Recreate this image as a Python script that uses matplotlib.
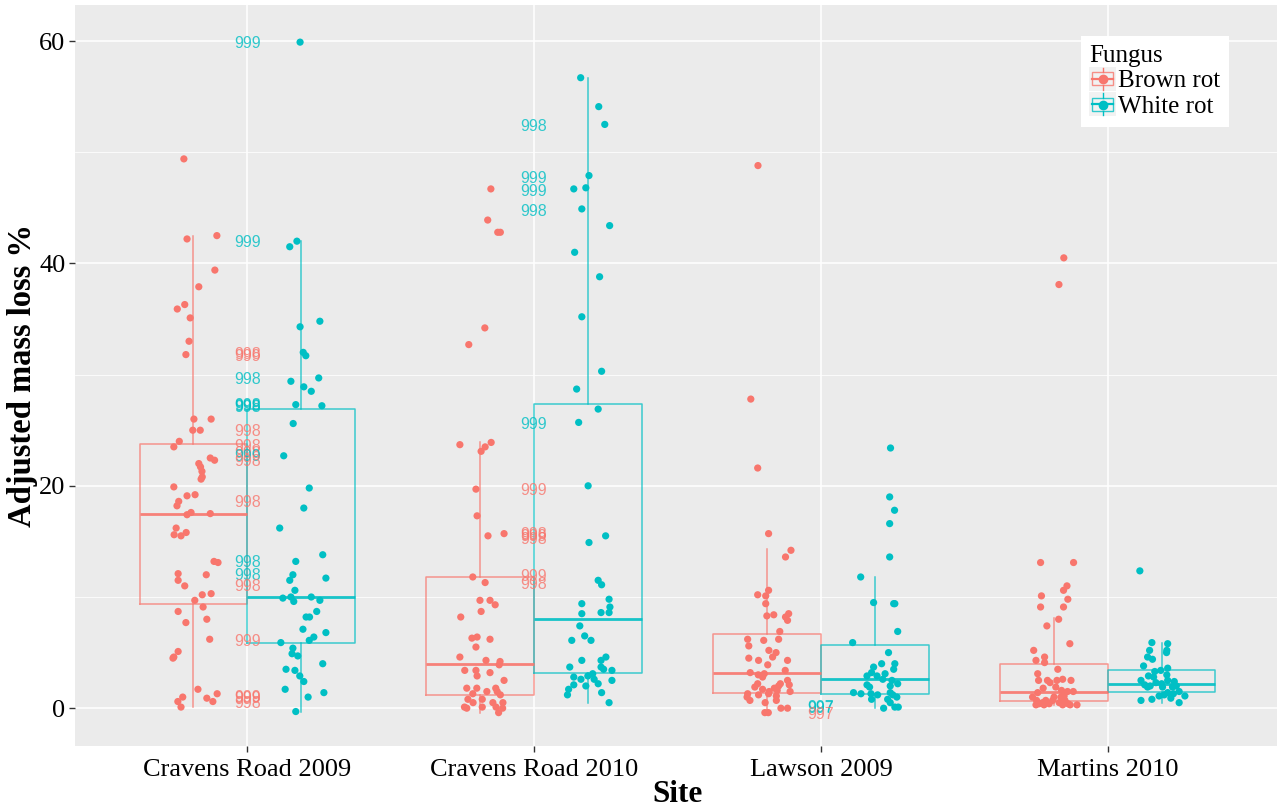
import matplotlib
matplotlib.use("Agg")
import matplotlib.pyplot as plt
from matplotlib.legend_handler import HandlerBase
from matplotlib.patches import Rectangle
from matplotlib.lines import Line2D

# ---------------- data ----------------
sites = ["Cravens Road 2009", "Cravens Road 2010", "Lawson 2009", "Martins 2010"]
fungi = ["Brown rot", "White rot"]

# jittered observations: adjusted mass loss (%) and horizontal jitter (category units)
brown_cr09_y = [49.4, 42.2, 42.5, 39.4, 37.9, 36.3, 35.9, 35.1, 33.0, 31.8, 26.0, 26.0, 25.0, 25.0, 24.0, 23.5,
                22.5, 22.3, 22.0, 21.7, 21.3, 20.8, 20.6, 19.9, 19.1, 19.2, 18.6, 18.2, 17.4, 17.6, 17.5, 16.2,
                15.6, 15.5, 15.8, 13.2, 13.1, 12.1, 11.5, 11.0, 12.0, 10.3, 10.2, 9.7, 9.1, 8.7, 8.0, 7.7, 6.2,
                5.1, 4.6, 4.5, 1.7, 1.3, 1.0, 0.9, 0.6, 0.6, 0.1]
brown_cr09_jit = [-0.033, -0.022, 0.082, 0.075, 0.019, -0.030, -0.056, -0.011, -0.015, -0.026, 0.002, 0.062,
                  -0.002, 0.024, -0.049, -0.068, 0.059, 0.074, 0.019, 0.025, 0.030, 0.031, 0.027, -0.068, -0.022,
                  0.006, -0.051, -0.057, -0.022, -0.008, 0.059, -0.060, -0.067, -0.043, -0.025, 0.072, 0.086,
                  -0.053, -0.053, -0.030, 0.045, 0.062, 0.031, 0.005, 0.034, -0.053, 0.047, -0.026, 0.057,
                  -0.053, -0.068, -0.071, 0.016, 0.083, -0.037, 0.047, 0.068, -0.054, -0.043]
white_cr09_y = [59.9, 42.0, 41.5, 34.8, 34.3, 32.0, 31.7, 29.4, 29.7, 28.9, 28.5, 27.3, 27.2, 25.6, 22.7, 19.8,
                18.0, 16.2, 13.8, 13.2, 12.0, 11.5, 11.7, 10.6, 9.9, 10.0, 9.6, 10.0, 9.7, 8.7, 8.2, 8.2, 7.1,
                6.8, 6.4, 6.1, 5.9, 5.4, 4.9, 4.7, 4.0, 3.5, 3.4, 2.9, 2.4, 1.7, 1.4, 1.0, -0.3]
white_cr09_jit = [-0.003, -0.014, -0.039, 0.066, -0.003, 0.008, 0.017, -0.035, 0.062, 0.010, 0.036, -0.018,
                  0.073, -0.027, -0.060, 0.029, 0.010, -0.074, 0.076, -0.018, -0.028, -0.039, 0.087, -0.021,
                  -0.063, -0.035, -0.025, 0.036, 0.066, 0.055, 0.018, 0.030, 0.007, 0.087, 0.045, 0.029,
                  -0.070, -0.028, -0.031, -0.011, 0.076, -0.052, -0.021, -0.004, 0.010, -0.055, 0.080, 0.025,
                  -0.018]
brown_cr10_y = [46.7, 43.9, 42.8, 42.8, 34.2, 32.7, 23.7, 23.1, 23.5, 23.9, 19.7, 17.3, 15.5, 15.7, 11.8, 11.3,
                9.7, 9.7, 9.3, 8.7, 8.2, 6.3, 6.4, 6.2, 5.5, 4.6, 4.3, 4.2, 3.9, 3.4, 3.4, 3.2, 2.5, 2.9, 1.8,
                1.8, 1.8, 1.3, 1.5, 1.5, 0.8, 0.5, 0.8, 0.5, 1.2, 0.5, 0.1, 0.0, 0.1, 0.1, -0.4, 0.0]
brown_cr10_jit = [0.037, 0.026, 0.061, 0.070, 0.016, -0.040, -0.071, 0.003, 0.017, 0.038, -0.015, -0.011,
                  0.027, 0.083, -0.026, 0.017, -0.001, 0.034, 0.052, 0.003, -0.068, -0.029, -0.011, 0.034,
                  -0.015, -0.071, 0.020, 0.069, 0.066, -0.054, -0.015, 0.034, 0.083, -0.011, -0.047, -0.012,
                  0.054, -0.026, 0.023, 0.059, -0.043, -0.025, 0.007, 0.044, 0.070, 0.079, -0.055, -0.047,
                  0.007, 0.055, 0.064, 0.078]
white_cr10_y = [56.7, 54.1, 52.5, 47.9, 46.7, 46.8, 44.9, 43.4, 41.0, 38.8, 35.2, 30.3, 28.7, 26.9, 25.7, 20.0,
                15.5, 14.9, 11.5, 11.1, 9.4, 9.8, 9.1, 8.6, 8.6, 8.5, 7.4, 6.1, 6.5, 6.1, 4.3, 4.3, 4.6, 3.7,
                3.7, 3.5, 3.4, 3.1, 2.9, 2.8, 2.6, 2.6, 2.5, 2.1, 2.0, 2.2, 1.7, 1.2, 1.4, 0.5]
white_cr10_jit = [-0.025, 0.038, 0.059, 0.004, -0.049, -0.007, -0.021, 0.076, -0.046, 0.041, -0.021, 0.048,
                  -0.039, 0.036, -0.032, 0.001, 0.062, 0.004, 0.036, 0.048, -0.021, 0.074, 0.077, 0.074, 0.046,
                  -0.021, -0.028, -0.056, -0.011, 0.011, -0.021, 0.046, 0.063, -0.063, 0.046, 0.055, 0.084,
                  0.017, 0.000, -0.049, -0.024, 0.022, 0.084, -0.049, -0.007, 0.036, -0.067, -0.071, 0.048,
                  0.074]
brown_law09_y = [48.8, 27.8, 21.6, 15.7, 14.2, 13.6, 10.2, 10.1, 10.6, 9.4, 8.3, 8.4, 8.2, 8.5, 7.9, 6.9, 6.2,
                 6.1, 6.2, 5.6, 5.2, 5.0, 4.6, 4.3, 4.5, 4.3, 3.9, 3.4, 3.2, 3.0, 3.1, 2.8, 2.5, 2.1, 2.2, 2.0,
                 2.2, 1.9, 1.7, 1.5, 1.8, 1.6, 1.5, 1.3, 1.0, 0.7, 1.2, 1.3, 0.5, 1.1, 0.7, 0.0, 0.0, -0.4,
                 -0.4]
brown_law09_jit = [-0.032, -0.057, -0.033, 0.005, 0.083, 0.064, -0.033, -0.005, 0.005, -0.005, -0.001, 0.023,
                   0.064, 0.075, 0.071, 0.044, -0.068, -0.012, 0.040, -0.064, 0.006, 0.031, 0.019, 0.071,
                   -0.064, -0.030, 0.002, 0.063, -0.059, -0.031, -0.010, -0.016, 0.071, 0.077, 0.046, 0.040,
                   -0.033, -0.043, -0.016, 0.007, 0.025, 0.035, 0.080, -0.068, -0.070, -0.060, -0.030, 0.005,
                   -0.007, 0.032, 0.032, 0.048, 0.071, -0.008, 0.004]
white_law09_y = [23.4, 19.0, 17.8, 16.6, 13.6, 11.8, 9.5, 9.4, 9.4, 6.9, 5.9, 5.0, 4.0, 4.0, 3.7, 3.5, 3.2,
                 2.9, 2.9, 3.1, 2.6, 2.5, 2.2, 2.1, 1.9, 2.0, 1.4, 1.3, 1.3, 1.2, 1.4, 1.2, 0.8, 0.8, 1.0, 0.5,
                 0.0, 0.1, 0.1]
white_law09_jit = [0.055, 0.052, 0.069, 0.052, 0.052, -0.049, -0.004, 0.066, 0.070, 0.080, -0.077, 0.048,
                   0.024, 0.070, -0.004, 0.066, -0.011, -0.027, 0.008, 0.036, 0.028, 0.060, 0.080, -0.027,
                   -0.018, 0.054, -0.074, -0.048, -0.013, 0.010, 0.054, 0.063, -0.011, 0.045, 0.077, 0.054,
                   0.031, 0.070, 0.082]
brown_mar10_y = [40.5, 38.1, 13.1, 13.1, 11.0, 10.6, 10.1, 9.8, 9.1, 9.1, 8.0, 7.4, 5.8, 5.2, 4.6, 4.3, 4.1,
                 3.5, 3.1, 2.5, 2.5, 2.3, 2.5, 2.6, 2.5, 1.8, 1.9, 1.6, 1.5, 1.5, 1.4, 1.0, 0.7, 0.4, 0.5, 0.7,
                 0.4, 0.7, 1.0, 0.5, 0.3, 0.7, 0.4, 0.3, 0.3, 0.3, 0.3, 1.0, 1.1]
brown_mar10_jit = [0.034, 0.017, -0.047, 0.068, 0.045, 0.033, -0.044, 0.048, -0.047, 0.033, 0.016, -0.025,
                   0.055, -0.071, -0.033, -0.063, -0.033, 0.013, -0.057, -0.054, -0.023, -0.014, 0.010, 0.030,
                   0.059, -0.038, 0.006, 0.026, 0.047, 0.067, -0.057, -0.075, -0.061, -0.052, -0.040, -0.029,
                   -0.017, -0.005, 0.000, 0.018, 0.030, 0.038, 0.049, 0.056, 0.080, -0.063, -0.035, 0.024,
                   0.035]
white_mar10_y = [12.35, 5.9, 5.8, 5.2, 5.0, 5.2, 4.6, 4.4, 3.8, 3.6, 3.4, 3.3, 2.8, 2.9, 3.0, 2.5, 2.5, 2.1,
                 2.0, 2.3, 2.2, 2.4, 2.0, 1.9, 1.9, 1.9, 1.5, 1.4, 1.2, 1.3, 1.1, 0.9, 0.5, 1.1, 0.7, 0.8]
white_mar10_jit = [-0.076, -0.034, 0.021, 0.018, 0.017, -0.042, -0.049, -0.032, -0.063, 0.021, -0.003, -0.024,
                   -0.028, -0.046, 0.018, 0.021, -0.072, -0.059, -0.040, -0.020, 0.000, 0.044, 0.051, 0.038,
                   -0.049, 0.003, 0.061, 0.021, 0.009, 0.041, -0.009, 0.032, 0.061, 0.081, -0.072, -0.034]

# box summary statistics per site
brown_lo = [0.1, -0.4, -0.4, 0.3]
brown_q1 = [9.4, 1.2, 1.4, 0.65]
brown_med = [17.5, 4.0, 3.2, 1.45]
brown_q3 = [23.8, 11.8, 6.7, 4.0]
brown_hi = [42.5, 23.9, 14.3, 8.1]
white_lo = [-0.3, 0.5, 0.0, 0.5]
white_q1 = [5.9, 3.2, 1.3, 1.5]
white_med = [10.0, 8.0, 2.6, 2.15]
white_q3 = [26.9, 27.4, 5.7, 3.4]
white_hi = [42.0, 56.7, 11.8, 5.9]

# text annotations (site index, fungus, label, value)
label_site = [0, 0, 0, 0, 0, 0, 0, 0, 0, 0, 0, 0, 0, 0, 0, 0, 0, 0, 0, 0, 0,
              1, 1, 1, 1, 1, 1, 1, 1, 1, 1, 1,
              2, 2, 2]
label_fungus = ["White rot", "White rot", "Brown rot", "Brown rot", "White rot", "White rot", "White rot",
                "White rot", "Brown rot", "Brown rot", "Brown rot", "White rot", "Brown rot", "Brown rot",
                "White rot", "White rot", "Brown rot", "Brown rot", "Brown rot", "Brown rot", "Brown rot",
                "White rot", "White rot", "White rot", "White rot", "White rot", "Brown rot", "Brown rot",
                "Brown rot", "Brown rot", "Brown rot", "Brown rot",
                "White rot", "White rot", "Brown rot"]
label_text = ["999", "999", "998", "999", "998", "998", "999", "998", "998", "998", "998", "999", "998", "998",
              "998", "998", "998", "999", "999", "999", "998",
              "998", "999", "999", "998", "999", "999", "998", "999", "998", "999", "998",
              "997", "997", "997"]
label_y = [59.8, 41.9, 31.8, 31.6, 29.6, 27.2, 27.1, 27.0, 24.9, 23.5, 22.9, 22.6, 22.2, 18.5,
           13.1, 11.9, 10.9, 6.0, 1.0, 0.9, 0.4,
           52.3, 47.6, 46.5, 44.7, 25.5, 19.6, 15.6, 15.4, 15.2, 11.8, 11.1,
           0.05, 0.0, -0.6]

# ---------------- styling ----------------
colors = {"Brown rot": "#F8766D", "White rot": "#00BFC4"}
serif = "Liberation Serif"
dodge = 0.1875
box_w = 0.375

fig = plt.figure(figsize=(12.77, 8.07), dpi=100)
W, H = 1277.0, 807.0
ax = fig.add_axes([75 / W, 1 - 746 / H, 1205 / W, 741 / H])
ax.set_facecolor("#EBEBEB")
for s in ax.spines.values():
    s.set_visible(False)
ax.set_xlim(0.4, 4.6)
ax.set_ylim(-3.40, 63.24)

ax.set_yticks([0, 20, 40, 60])
ax.set_yticks([10, 30, 50], minor=True)
ax.set_xticks(range(1, len(sites) + 1))
ax.set_xticklabels(sites)
ax.grid(which="major", color="white", linewidth=1.1)
ax.grid(which="minor", axis="y", color="white", linewidth=0.55)
ax.set_axisbelow(True)
ax.tick_params(which="major", length=4, width=1, color="#333333", labelsize=19, pad=3)
ax.tick_params(axis="x", which="major", pad=5)
ax.tick_params(which="minor", length=0)
for lab in ax.get_xticklabels() + ax.get_yticklabels():
    lab.set_fontfamily(serif)
    lab.set_color("black")

ax.set_xlabel("Site", fontsize=22.5, fontweight="bold", family=serif, labelpad=0)
ax.set_ylabel("Adjusted mass loss %", fontsize=23.5, fontweight="bold", family=serif, labelpad=1)

stats_src = {
    "Brown rot": (brown_lo, brown_q1, brown_med, brown_q3, brown_hi),
    "White rot": (white_lo, white_q1, white_med, white_q3, white_hi),
}
points = {
    "Brown rot": [(brown_cr09_y, brown_cr09_jit), (brown_cr10_y, brown_cr10_jit),
                  (brown_law09_y, brown_law09_jit), (brown_mar10_y, brown_mar10_jit)],
    "White rot": [(white_cr09_y, white_cr09_jit), (white_cr10_y, white_cr10_jit),
                  (white_law09_y, white_law09_jit), (white_mar10_y, white_mar10_jit)],
}

for k, f in enumerate(fungi):
    off = -dodge if k == 0 else dodge
    lo, q1, med, q3, hi = stats_src[f]
    stats = [dict(whislo=lo[i], q1=q1[i], med=med[i], q3=q3[i], whishi=hi[i], fliers=[])
             for i in range(len(sites))]
    pos = [i + 1 + off for i in range(len(sites))]
    c = colors[f]
    ax.bxp(stats, positions=pos, widths=box_w, showcaps=False, showfliers=False,
           boxprops=dict(color=c, linewidth=1.1, alpha=0.75),
           whiskerprops=dict(color=c, linewidth=1.1, alpha=0.75),
           medianprops=dict(color=c, linewidth=2.0, alpha=0.9),
           manage_ticks=False, zorder=2)
    for i, (yv, jv) in enumerate(points[f]):
        xs = [i + 1 + off + j for j in jv]
        ax.scatter(xs, yv, s=27, color=c, edgecolors="none", zorder=3)

for s_i, f, t, yv in zip(label_site, label_fungus, label_text, label_y):
    ax.text(s_i + 1, yv, t, color=colors[f], alpha=0.8, ha="center", va="center",
            fontsize=11.5, family="Liberation Sans", zorder=4)


# legend with boxplot-like keys
class BoxKeyHandler(HandlerBase):
    def create_artists(self, legend, orig_handle, xdescent, ydescent, width, height, fontsize, trans):
        c = orig_handle.get_color()
        x0, y0 = -xdescent, -ydescent
        bg = Rectangle((x0, y0), width, height, facecolor="#F2F2F2", edgecolor="none", transform=trans)
        cx = x0 + width / 2
        box = Rectangle((x0 + width * 0.1, y0 + height * 0.22), width * 0.8, height * 0.56,
                        facecolor="none", edgecolor=c, linewidth=1.0, alpha=0.8, transform=trans)
        w1 = Line2D([cx, cx], [y0 + height * 0.05, y0 + height * 0.22], color=c, lw=1.0, transform=trans)
        w2 = Line2D([cx, cx], [y0 + height * 0.78, y0 + height * 0.95], color=c, lw=1.0, transform=trans)
        md = Line2D([x0 + width * 0.1, x0 + width * 0.9], [y0 + height * 0.5] * 2, color=c, lw=1.6,
                    transform=trans)
        dot = Line2D([cx], [y0 + height * 0.47], marker="o", markersize=6, color=c, linestyle="none",
                     transform=trans)
        return [bg, box, w1, w2, md, dot]


handles = [Line2D([], [], color=colors[f], label=f) for f in fungi]
leg = ax.legend(handles=handles, handler_map={Line2D: BoxKeyHandler()}, title="Fungus",
                loc="upper right", bbox_to_anchor=(1229 / W, 1 - 36 / H), bbox_transform=fig.transFigure,
                prop={"family": serif, "size": 18}, title_fontproperties={"family": serif, "size": 18},
                frameon=True, fancybox=False, framealpha=1, edgecolor="white", facecolor="white",
                handlelength=1.05, handleheight=1.1, handletextpad=0.1, labelspacing=0.0,
                borderpad=0.35, borderaxespad=0, alignment="left")
leg.get_frame().set_linewidth(0)

fig.savefig("out.png", dpi=100)
